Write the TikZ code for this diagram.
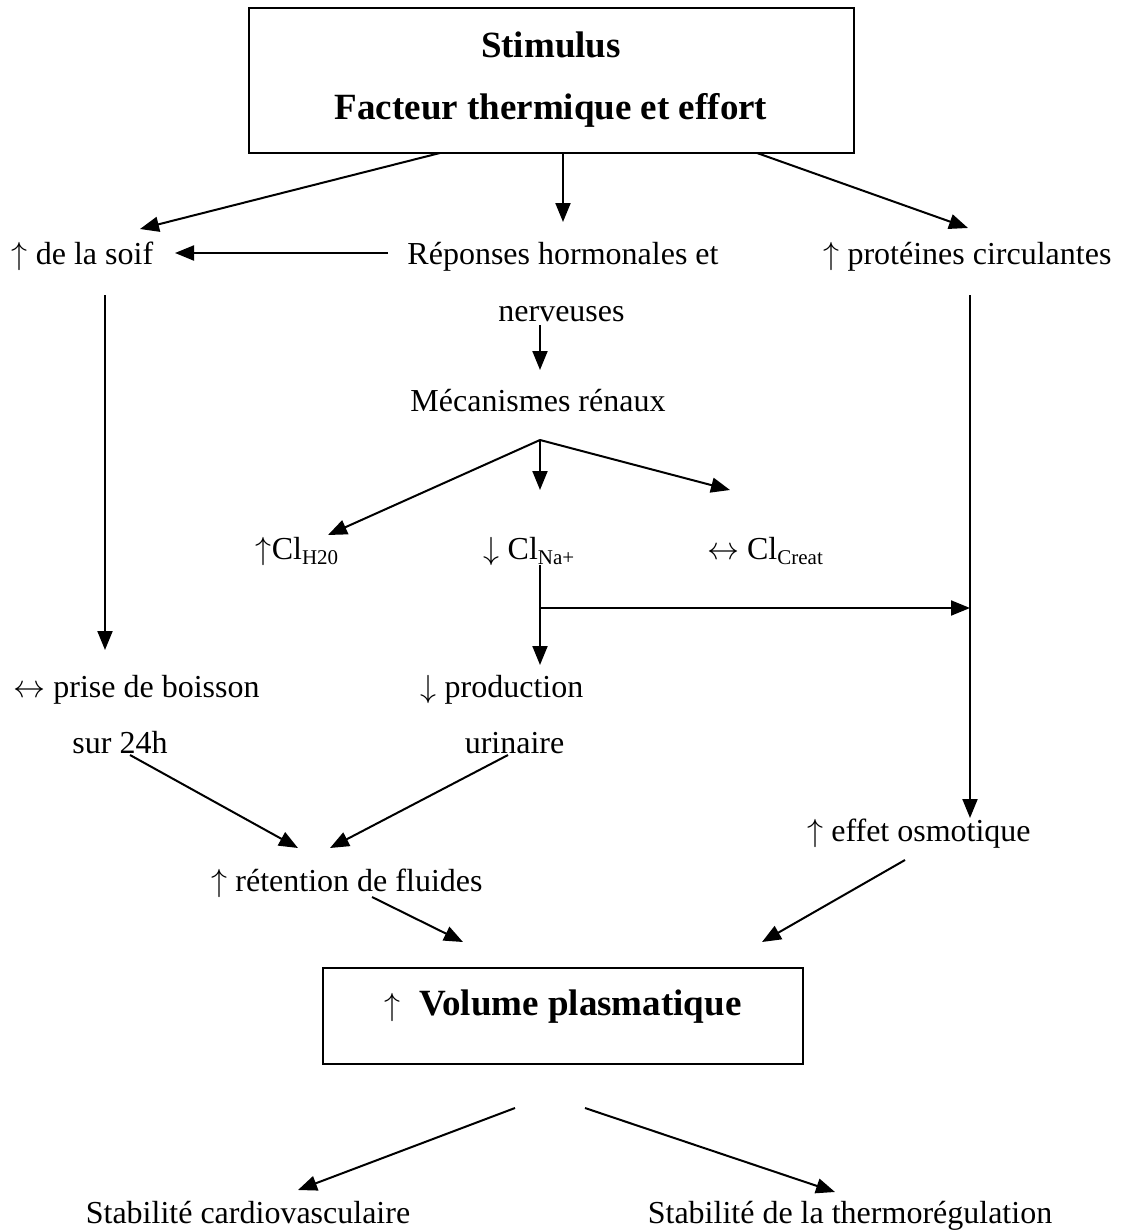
\documentclass[tikz,border=0pt]{standalone}
\usepackage{graphicx}
\usepackage{fontspec}
\setmainfont{Liberation Serif}
\usetikzlibrary{arrows.meta}
\tikzset{
  x=1pt, y={(0pt,-1pt)},
  lbl/.style={inner sep=0pt, anchor=mid, font=\fontsize{32}{38}\selectfont},
  blbl/.style={inner sep=0pt, anchor=mid, font=\fontsize{37}{44}\selectfont\bfseries},
  frame/.style={draw, line width=2.5pt, inner sep=0pt},
  arr/.style={-{Triangle[length=19pt,width=15pt]}, line width=2pt},
}
\newcommand{\sbs}[1]{\raisebox{-0.15em}{\fontsize{21}{21}\selectfont #1}}
\newcommand{\sym}[1]{\scalebox{3.2}{\fontsize{10}{12}\selectfont$#1$}}
\newcommand{\up}{\sym{\uparrow}}
\newcommand{\dn}{\sym{\downarrow}}
\newcommand{\lr}{\sym{\leftrightarrow}}
\begin{document}
\begin{tikzpicture}
\useasboundingbox (0,0) rectangle (1134,1231);
% top box
\node[frame, minimum width=605pt, minimum height=145pt] (stim) at (551.5,80.5) {};
\node[blbl] (t1) at (551,55) {Stimulus};
\node[blbl] (t2) at (551,117) {Facteur thermique et effort};
% row 2
\node[lbl] (soif) at (82.5,262) {\up{} de la soif};
\node[lbl] (rep1) at (563,262) {Réponses hormonales et};
\node[lbl] (rep2) at (561.5,319) {nerveuses};
\node[lbl] (prot) at (967.5,262) {\up{} protéines circulantes};
\node[lbl] (meca) at (538,409) {Mécanismes rénaux};
\node[lbl] (clh) at (297,557) {\up Cl\sbs{H20}};
\node[lbl] (clna) at (529,557) {\dn{} Cl\sbs{Na+}};
\node[lbl] (clcr) at (765,557) {\lr{} Cl\sbs{Creat}};
\node[lbl] (prise1) at (136.5,695) {\lr{} prise de boisson};
\node[lbl] (prise2) at (120,751) {sur 24h};
\node[lbl] (prod1) at (502,695) {\dn{} production};
\node[lbl] (prod2) at (514.5,751) {urinaire};
\node[lbl] (ret) at (347,889) {\up{} rétention de fluides};
\node[lbl] (osm) at (919,839) {\up{} effet osmotique};
% volume box
\node[frame, minimum width=480pt, minimum height=96pt] (vol) at (563,1016) {};
\node[blbl] (volt) at (563,1013) {{\mdseries\up}\ \ Volume plasmatique};
\node[lbl] (stab1) at (248,1221) {Stabilité cardiovasculaire};
\node[lbl] (stab2) at (850,1221) {Stabilité de la thermorégulation};
% coordinates
\coordinate (a1s) at (440,153); \coordinate (a1e) at (140,229);
\coordinate (a2s) at (563,153); \coordinate (a2e) at (563,222);
\coordinate (a3s) at (757,153); \coordinate (a3e) at (968,228);
\coordinate (h1s) at (388,253); \coordinate (h1e) at (175,253);
\coordinate (rvs) at (970,295); \coordinate (rve) at (970,818);
\coordinate (lvs) at (105,295); \coordinate (lve) at (105,650);
\coordinate (nvs) at (540,325); \coordinate (nve) at (540,370);
\coordinate (apex) at (540,440);
\coordinate (m1e) at (328,535); \coordinate (m2e) at (540,490); \coordinate (m3e) at (730,490);
\coordinate (cvs) at (540,565); \coordinate (cve) at (540,665);
\coordinate (chs) at (540,608); \coordinate (che) at (970,608);
\coordinate (p1s) at (130,755); \coordinate (p1e) at (298,848);
\coordinate (p2s) at (508,755); \coordinate (p2e) at (330,848);
\coordinate (r1s) at (372,897); \coordinate (r1e) at (463,942);
\coordinate (o1s) at (905,860); \coordinate (o1e) at (762,942);
\coordinate (b1s) at (515,1108); \coordinate (b1e) at (298,1190);
\coordinate (b2s) at (585,1108); \coordinate (b2e) at (835,1192);
% arrows
\draw[arr] (a1s) -- (a1e);
\draw[arr] (a2s) -- (a2e);
\draw[arr] (a3s) -- (a3e);
\draw[arr] (h1s) -- (h1e);
\draw[arr] (rvs) -- (rve);
\draw[arr] (lvs) -- (lve);
\draw[arr] (nvs) -- (nve);
\draw[arr] (apex) -- (m1e);
\draw[arr] (apex) -- (m2e);
\draw[arr] (apex) -- (m3e);
\draw[arr] (cvs) -- (cve);
\draw[arr] (chs) -- (che);
\draw[arr] (p1s) -- (p1e);
\draw[arr] (p2s) -- (p2e);
\draw[arr] (r1s) -- (r1e);
\draw[arr] (o1s) -- (o1e);
\draw[arr] (b1s) -- (b1e);
\draw[arr] (b2s) -- (b2e);
\end{tikzpicture}
\end{document}
